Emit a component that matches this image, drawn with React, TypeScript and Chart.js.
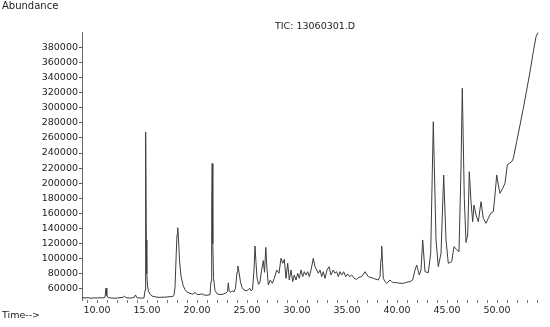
import React, { useEffect, useRef } from "react";
import { Chart, registerables } from "chart.js";

Chart.register(...registerables);

const titleText = "TIC: 13060301.D";
const yAxisLabel = "Abundance";
const xAxisLabel = "Time-->";

const times: number[] = [
  8.5, 8.8, 9.1, 9.4, 9.7, 10.0, 10.3, 10.6, 10.8, 10.9, 10.98, 11.1, 11.4, 11.8, 12.2, 12.6, 12.75, 12.9, 13.3, 13.7,
  13.85, 14.0, 14.4, 14.7, 14.8, 14.85, 14.88, 14.93, 14.98, 15.05, 15.15, 15.3, 15.5, 15.8, 16.2, 16.6, 17.0, 17.4, 17.6, 17.7,
  17.8, 17.92, 18.0, 18.07, 18.15, 18.25, 18.4, 18.6, 18.8, 19.0, 19.3, 19.6, 19.8, 19.95, 20.2, 20.5, 20.7, 21.0, 21.3, 21.4,
  21.47, 21.52, 21.58, 21.65, 21.8, 22.0, 22.3, 22.6, 22.9, 23.05, 23.13, 23.22, 23.4, 23.55, 23.7, 23.85, 24.0, 24.08, 24.2, 24.35,
  24.5, 24.7, 24.95, 25.15, 25.27, 25.4, 25.55, 25.7, 25.8, 25.9, 26.0, 26.15, 26.3, 26.45, 26.63, 26.75, 26.88, 26.98, 27.13, 27.33,
  27.53, 27.73, 27.97, 28.2, 28.4, 28.57, 28.73, 28.9, 29.07, 29.23, 29.4, 29.57, 29.73, 29.9, 30.07, 30.23, 30.4, 30.57, 30.73, 30.9,
  31.07, 31.23, 31.4, 31.63, 31.8, 31.97, 32.13, 32.3, 32.47, 32.63, 32.8, 33.0, 33.2, 33.4, 33.63, 33.8, 33.97, 34.13, 34.3, 34.47,
  34.67, 34.87, 35.07, 35.27, 35.47, 35.73, 35.97, 36.2, 36.47, 36.8, 37.13, 37.63, 38.13, 38.3, 38.4, 38.47, 38.55, 38.63, 38.8, 38.97,
  39.3, 39.47, 39.63, 39.97, 40.3, 40.63, 40.97, 41.3, 41.57, 41.8, 41.97, 42.23, 42.4, 42.57, 42.8, 43.13, 43.37, 43.63, 43.9, 44.13,
  44.4, 44.67, 44.9, 45.13, 45.47, 45.7, 45.97, 46.2, 46.4, 46.53, 46.73, 46.9, 47.07, 47.23, 47.4, 47.57, 47.7, 47.9, 48.13, 48.4,
  48.63, 48.9, 49.13, 49.37, 49.63, 49.8, 49.97, 50.13, 50.3, 50.57, 50.8, 51.03, 51.23, 51.47, 51.63, 51.97, 52.3, 52.63, 52.97, 53.3,
  53.63, 53.9, 54.1,
];

const abundance: number[] = [
  48500, 48000, 48300, 47600, 48200, 47800, 48400, 48000, 49000, 61000, 51000, 48500, 48000, 47600, 48200, 48800, 50500, 48200, 47800, 48500,
  52000, 48300, 47800, 48000, 58000, 150000, 268000, 125000, 80000, 64000, 57000, 53000, 50500, 49500, 48800, 49000, 49300, 49800, 50300, 51500,
  62000, 105000, 132000, 141000, 126000, 98000, 77000, 65000, 59000, 56000, 54000, 53000, 55500, 53000, 52500, 53500, 52000, 51500, 52500, 70000,
  170000, 226000, 120000, 75000, 58000, 53500, 52500, 53000, 54500, 56500, 68000, 57000, 55500, 57500, 56000, 61000, 82000, 90300, 82000, 69000,
  62000, 58500, 57500, 59000, 61000, 57500, 59000, 85000, 116800, 95000, 75000, 66000, 69000, 84000, 97500, 82000, 115000, 90000, 65200, 71800,
  67400, 74000, 85000, 80700, 100500, 93900, 99200, 74000, 93900, 71800, 85000, 69600, 78400, 71800, 80700, 74000, 85000, 76200, 82800, 78400,
  82800, 76200, 85000, 100500, 89400, 85000, 80700, 85000, 76200, 82800, 74000, 85000, 89400, 78400, 85000, 80700, 82800, 76200, 82800, 78400,
  82800, 76200, 79700, 76200, 78400, 74000, 72700, 75400, 76200, 82800, 76200, 74000, 71800, 76200, 100000, 116800, 95000, 74000, 69600, 67400,
  71800, 69500, 68300, 68300, 67400, 67400, 68800, 69600, 71800, 85000, 91600, 78400, 85000, 124800, 82800, 81500, 107200, 281500, 124800, 89400,
  107200, 210900, 124800, 93900, 96000, 116000, 112000, 109300, 220000, 325700, 180000, 121500, 131400, 215200, 175500, 149000, 171100, 157900, 149000, 175500,
  153500, 146900, 153500, 160100, 162300, 184400, 210900, 197600, 186600, 193300, 199900, 224100, 226400, 228500, 233000, 255000, 277100, 299200, 323400, 347700,
  374200, 394000, 399500,
];

const yTickValues: number[] = [
  60000, 80000, 100000, 120000, 140000, 160000, 180000, 200000, 220000, 240000,
  260000, 280000, 300000, 320000, 340000, 360000, 380000,
];

const xTickValues: number[] = [
  9, 10, 11, 12, 13, 14, 15, 16, 17, 18, 19, 20, 21, 22, 23, 24, 25, 26, 27, 28, 29, 30, 31,
  32, 33, 34, 35, 36, 37, 38, 39, 40, 41, 42, 43, 44, 45, 46, 47, 48, 49, 50, 51, 52, 53, 54,
];

const xLabelValues: number[] = [10, 15, 20, 25, 30, 35, 40, 45, 50];

const xMin = 8.5;
const xMax = 54.8;
const yMin = 45300;
const yMax = 400300;

const FONT = "'DejaVu Sans', sans-serif";

export default function App() {
  const canvasRef = useRef<HTMLCanvasElement | null>(null);

  useEffect(() => {
    const canvas = canvasRef.current;
    if (!canvas) return;
    const points = times.map((t, i) => ({ x: t, y: abundance[i] }));

    const textPlugin = {
      id: "textPlugin",
      afterDraw(chart: any) {
        const ctx = chart.ctx;
        ctx.save();
        ctx.fillStyle = "#222";
        ctx.textBaseline = "middle";
        ctx.textAlign = "left";
        ctx.font = `10px ${FONT}`;
        ctx.fillText(yAxisLabel, 2, 6);
        ctx.font = `9.5px ${FONT}`;
        ctx.fillText(titleText, 275, 27);
        ctx.fillText(xAxisLabel, 2, 316);
        ctx.restore();
      },
    };

    const chart = new Chart(canvas, {
      type: "line",
      data: {
        datasets: [
          {
            data: points,
            borderColor: "#3c3c3c",
            borderWidth: 1,
            pointRadius: 0,
            tension: 0,
            fill: false,
          },
        ],
      },
      options: {
        animation: false,
        responsive: false,
        events: [],
        layout: { padding: { top: 32, right: 5, left: 0, bottom: 0 } },
        plugins: {
          legend: { display: false },
          tooltip: { enabled: false },
          title: { display: false },
        },
        scales: {
          x: {
            type: "linear",
            min: xMin,
            max: xMax,
            border: { display: false },
            grid: {
              drawOnChartArea: false,
              drawTicks: true,
              tickLength: 3,
              tickColor: "#777",
            },
            afterBuildTicks: (scale: any) => {
              scale.ticks = xTickValues.map((v) => ({ value: v }));
            },
            ticks: {
              autoSkip: false,
              maxRotation: 0,
              padding: 2,
              color: "#222",
              font: { family: FONT, size: 9.5 },
              callback: (v: any) => {
                const n = Number(v);
                return xLabelValues.includes(n) ? n.toFixed(2) : "";
              },
            },
            afterFit: (scale: any) => {
              scale.height = 27;
            },
          },
          y: {
            type: "linear",
            min: yMin,
            max: yMax,
            border: { display: true, color: "#666", dash: [1, 2], width: 1 },
            grid: {
              drawOnChartArea: false,
              drawTicks: true,
              tickLength: 3,
              tickColor: "#555",
            },
            afterBuildTicks: (scale: any) => {
              scale.ticks = yTickValues.map((v) => ({ value: v }));
            },
            ticks: {
              autoSkip: false,
              padding: 1,
              color: "#222",
              font: { family: FONT, size: 9.5 },
              callback: (v: any) => String(v),
            },
            afterFit: (scale: any) => {
              scale.width = 82;
            },
          },
        },
      },
      plugins: [textPlugin],
    } as any);

    return () => {
      chart.destroy();
    };
  }, []);

  return (
    <div style={{ position: "absolute", left: 0, top: 0, width: 550, height: 327, background: "#fff" }}>
      <canvas ref={canvasRef} width={550} height={327} style={{ display: "block" }} />
    </div>
  );
}
